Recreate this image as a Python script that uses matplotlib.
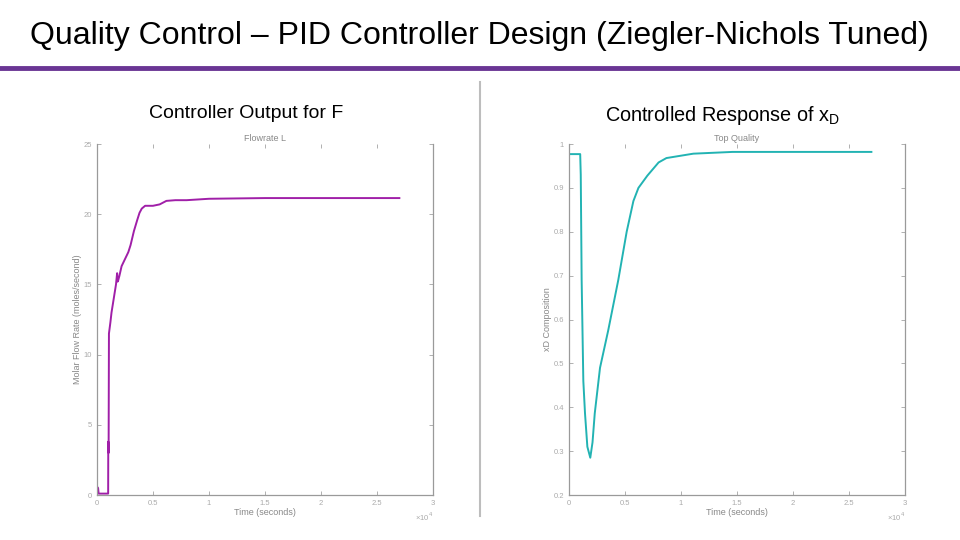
import numpy as np
import matplotlib.pyplot as plt
from matplotlib.lines import Line2D

plt.rcParams['font.family'] = ['Liberation Sans', 'DejaVu Sans']

# flowrate L (controller output), time in seconds
t_F = [0, 100, 150, 1000, 1010, 1040, 1070, 1200, 1300, 1500, 1700, 1800, 1850,
       1900, 2000, 2200, 2500, 2800, 3000, 3300, 3600, 3800, 4000, 4300, 5000,
       5600, 6200, 7000, 8000, 9000, 10000, 15000, 20000, 27000]
F = [0.6, 0.5, 0.1, 0.1, 3.8, 3.0, 11.5, 12.3, 13.0, 14.0, 15.0, 15.8, 15.2,
     15.3, 15.6, 16.3, 16.8, 17.3, 17.8, 18.8, 19.6, 20.1, 20.4, 20.6, 20.6,
     20.7, 20.95, 21.0, 21.0, 21.05, 21.1, 21.15, 21.15, 21.15]

# top quality xD
t_x = [0, 1000, 1050, 1130, 1280, 1430, 1640, 1900, 2100, 2300, 2770, 3500,
       4400, 5150, 5750, 6200, 7000, 8000, 8700, 11100, 14600, 27000]
xD = [0.977, 0.977, 0.93, 0.69, 0.46, 0.386, 0.31, 0.285, 0.32, 0.386, 0.49,
      0.575, 0.69, 0.80, 0.87, 0.90, 0.928, 0.958, 0.968, 0.978, 0.982, 0.982]

fig = plt.figure(figsize=(9.6, 5.4), dpi=100)
fig.text(0.499, 0.933, "Quality Control – PID Controller Design (Ziegler-Nichols Tuned)",
         ha='center', va='center', fontsize=23, color='black')
fig.add_artist(Line2D([0, 1], [0.874, 0.874], color='#6a3594', lw=3.5))
fig.add_artist(Line2D([0.5, 0.5], [0.045, 0.848], color='#bdbdbd', lw=1.5))

fig.text(0.256, 0.789, "Controller Output for F", ha='center', va='center', fontsize=14)
fig.text(0.752, 0.786, "Controlled Response of x$_\\mathregular{D}$", ha='center',
         va='center', fontsize=14.3)

def style(ax, title, ylabel):
    for s in ax.spines.values():
        s.set_color('#9a9a9a')
        s.set_linewidth(0.9)
    ax.spines['top'].set_visible(False)
    ax.tick_params(direction='in', length=3, width=0.7, colors='#b0b0b0',
                   labelsize=5.5, labelcolor='#aaaaaa', top=True, right=True)
    ax.set_title(title, fontsize=6.5, color='#888888', pad=2)
    ax.set_xlabel("Time (seconds)", fontsize=6.5, color='#888888', labelpad=1)
    ax.set_ylabel(ylabel, fontsize=6.5, color='#888888', labelpad=1)
    ax.set_xlim(0, 3)
    ax.set_xticks([0, 0.5, 1, 1.5, 2, 2.5, 3])
    ax.set_xticklabels(['0', '0.5', '1', '1.5', '2', '2.5', '3'])
    ax.text(1.0, -0.045, "×10$^4$", transform=ax.transAxes, ha='right', va='top',
            fontsize=5.5, color='#aaaaaa')

ax1 = fig.add_axes([0.101, 0.0833, 0.35, 0.65])
ax1.plot(np.array(t_F) / 1e4, F, color='#a01fa8', lw=1.4)
ax1.set_ylim(0, 25)
ax1.set_yticks([0, 5, 10, 15, 20, 25])
style(ax1, "Flowrate L", "Molar Flow Rate (moles/second)")

ax2 = fig.add_axes([0.5927, 0.0833, 0.35, 0.65])
ax2.plot(np.array(t_x) / 1e4, xD, color='#22b3b3', lw=1.4)
ax2.set_ylim(0.2, 1.0)
ax2.set_yticks(np.arange(0.2, 1.01, 0.1))
ax2.set_yticklabels(['0.2', '0.3', '0.4', '0.5', '0.6', '0.7', '0.8', '0.9', '1'])
style(ax2, "Top Quality", "xD Composition")

fig.savefig("out.png", dpi=100)
